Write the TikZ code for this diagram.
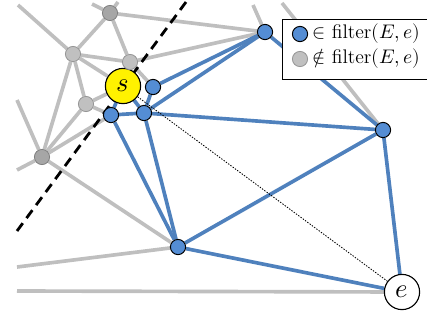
\documentclass[tikz,border=0pt]{standalone}
\usepackage{unicode-math}
\usepackage{tikz}
\usetikzlibrary{positioning, backgrounds}
\definecolor{edgeblue}{RGB}{79,129,189}
\definecolor{nodeblue}{RGB}{84,141,212}
\definecolor{edgegray}{RGB}{191,191,191}
\definecolor{nodegray}{RGB}{192,192,192}
\definecolor{hubgray}{RGB}{166,166,166}
\definecolor{rimgray}{RGB}{150,150,150}

\begin{document}
\begin{tikzpicture}[
    x=0.025cm, y=-0.025cm,
    kept/.style={circle, draw=black, line width=0.7pt, fill=nodeblue, inner sep=0pt, minimum size=0.38cm},
    dropped/.style={circle, draw=rimgray, line width=0.6pt, fill=nodegray, inner sep=0pt, minimum size=0.38cm},
    hub/.style={dropped, fill=hubgray, draw=gray},
    endpoint/.style={circle, draw=black, line width=0.8pt, inner sep=0pt, minimum size=0.88cm, font=\fontsize{19}{19}\selectfont},
    keptedge/.style={draw=edgeblue, line width=2.6pt},
    dropedge/.style={draw=edgegray, line width=2.6pt},
    cut/.style={draw=black, line width=2pt, dash pattern=on 7pt off 4.5pt}
]
    \useasboundingbox (0,0) rectangle (427,322);

    % Nodes
    \node[endpoint, fill=yellow] (s) at (123,86) {$s$};
    \node[endpoint, fill=white] (e) at (402,292) {$e$};

    \node[kept] (k1) at (153,87) {};
    \node[kept] (k2) at (111,115) {};
    \node[kept] (k3) at (144,113) {};
    \node[kept] (k4) at (265,32) {};
    \node[kept] (k5) at (383,130) {};
    \node[kept] (k6) at (178,247) {};

    \node[hub] (d1) at (110,13) {};
    \node[dropped] (d2) at (73,54) {};
    \node[dropped] (d3) at (130,62) {};
    \node[dropped] (d4) at (86,104) {};
    \node[hub] (d5) at (42,157) {};

    % Loose ends at the border
    \coordinate (o1) at (92,4);
    \coordinate (o2) at (118,2);
    \coordinate (o3) at (18,5);
    \coordinate (o4) at (17,100);
    \coordinate (o5) at (17,170);
    \coordinate (o6) at (17,267);
    \coordinate (o7) at (17,291);
    \coordinate (o8) at (253,5);
    \coordinate (o9) at (282,3);
    \coordinate (c1) at (186,2);
    \coordinate (c2) at (17,231);

    \begin{scope}[on background layer]
    % Filtered-out edges
    \foreach \a/\b in {d1/o1, d1/o2, d1/k4, d1/d2, d1/d3, d2/o3, d2/d3, d2/s, d2/d4, d2/d5,
                       d3/k1, d3/k4, d4/s, d4/k2, d4/d5, d5/k2, d5/o4, d5/o5, d5/k6,
                       k6/o6, e/o7, k4/o8, k5/o9}
        \draw[dropedge] (\a) -- (\b);

    % Kept edges
    \foreach \a/\b in {s/k2, s/k3, k1/k3, k2/k3, k1/k4, k3/k4, k4/k5, k3/k5,
                       k2/k6, k3/k6, k6/k5, k6/e, k5/e}
        \draw[keptedge] (\a) -- (\b);

    % Straight line and cut
    \draw[black, line width=0.6pt, dash pattern=on 1pt off 1pt] (s) -- (e);
    \draw[cut] (c1) -- (c2);
    \end{scope}

    % Legend
    \node[draw=black, line width=0.8pt, fill=white, minimum width=3.63cm, minimum height=1.5cm, anchor=north west] (legend) at (282,19) {};
    \node[kept] (lk) at (300,34) {};
    \node[dropped] (ld) at (300,59) {};
    \node[anchor=west, font=\fontsize{14}{16}\selectfont, inner sep=0pt] (lkt) at (312,34) {$\in$ filter$(E,e)$};
    \node[anchor=west, font=\fontsize{14}{16}\selectfont, inner sep=0pt] (ldt) at (312,59) {$\notin$ filter$(E,e)$};
\end{tikzpicture}
\end{document}
